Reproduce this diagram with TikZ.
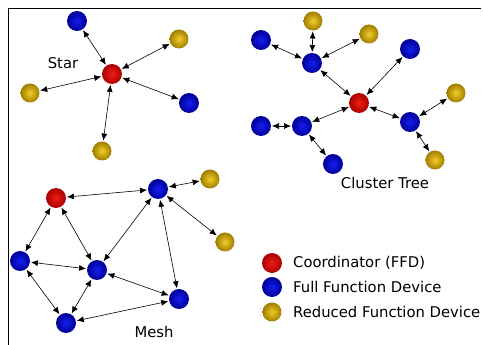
\documentclass[tikz,border=0pt]{standalone}
\usepackage{fontspec}
\setmainfont{DejaVu Sans}
\usetikzlibrary{arrows.meta}
\definecolor{redin}{RGB}{240,30,20}
\definecolor{redout}{RGB}{170,0,0}
\definecolor{bluein}{RGB}{20,30,240}
\definecolor{blueout}{RGB}{0,0,150}
\definecolor{goldin}{RGB}{240,205,40}
\definecolor{goldout}{RGB}{160,125,0}
\tikzset{
  dev/.style={circle, minimum size=20pt, inner sep=0pt, outer sep=1pt, shading=radial},
  coordn/.style={dev, inner color=redin, outer color=redout},
  ffd/.style={dev, inner color=bluein, outer color=blueout},
  rfd/.style={dev, minimum size=19pt, inner color=goldin, outer color=goldout},
  link/.style={{Latex[length=7pt,width=6pt]}-{Latex[length=7pt,width=6pt]}, line width=0.6pt},
  lbl/.style={font=\fontsize{14.8}{16}\selectfont, inner sep=0pt},
}
\begin{document}
\begin{tikzpicture}[x=1pt,y=-1pt]
\useasboundingbox (0,0) rectangle (483,345);
\coordinate (f1) at (8,345);
\coordinate (f2) at (8,9);
\coordinate (f3) at (481,9);
\draw[line width=1pt] (f1) -- (f2) -- (f3);
% Star
\node[coordn] (sc) at (112,74) {};
\node[ffd] (s1) at (77,21) {};
\node[rfd] (s2) at (179,39) {};
\node[rfd] (s3) at (30,93) {};
\node[ffd] (s4) at (189,103) {};
\node[rfd] (s5) at (102,151) {};
\node[lbl] (slab) at (63,63) {Star};
\foreach \n in {s1,s2,s3,s4,s5} \draw[link] (sc) -- (\n);
% Cluster tree
\node[coordn] (cc) at (359,103) {};
\node[ffd] (ca) at (312,63) {};
\node[rfd] (ca1) at (313,21) {};
\node[ffd] (ca2) at (261,40) {};
\node[rfd] (ca3) at (369,34) {};
\node[ffd] (cb) at (410,49) {};
\node[ffd] (cr) at (410,122) {};
\node[rfd] (cr1) at (456,93) {};
\node[rfd] (cr2) at (435,160) {};
\node[ffd] (cl) at (302,126) {};
\node[ffd] (cl1) at (261,126) {};
\node[ffd] (cl2) at (333,164) {};
\node[lbl] (clab) at (385,183) {Cluster Tree};
\draw[link] (cc) -- (ca);
\draw[link] (ca) -- (ca1);
\draw[link] (ca) -- (ca2);
\draw[link] (ca) -- (ca3);
\draw[link] (cc) -- (cb);
\draw[link] (cc) -- (cr);
\draw[link] (cr) -- (cr1);
\draw[link] (cr) -- (cr2);
\draw[link] (cc) -- (cl);
\draw[link] (cl) -- (cl1);
\draw[link] (cl) -- (cl2);
% Mesh
\node[coordn] (mr) at (56,198) {};
\node[ffd] (mt) at (158,189) {};
\node[rfd] (mg1) at (210,179) {};
\node[rfd] (mg2) at (225,242) {};
\node[ffd] (ml) at (20,261) {};
\node[ffd] (mc) at (97,270) {};
\node[ffd] (mrb) at (179,299) {};
\node[ffd] (mb) at (66,323) {};
\node[lbl] (mlab) at (154,332) {Mesh};
\draw[link] (mr) -- (mt);
\draw[link] (mt) -- (mg1);
\draw[link] (mt) -- (mg2);
\draw[link] (mr) -- (ml);
\draw[link] (mr) -- (mc);
\draw[link] (mt) -- (mc);
\draw[link] (mt) -- (mrb);
\draw[link] (ml) -- (mc);
\draw[link] (ml) -- (mb);
\draw[link] (mc) -- (mb);
\draw[link] (mc) -- (mrb);
\draw[link] (mb) -- (mrb);
% Legend
\node[coordn] (lg1) at (272,263) {};
\node[ffd] (lg2) at (272,287) {};
\node[rfd] (lg3) at (272,312) {};
\node[lbl, anchor=west] (lt1) at (293,263) {Coordinator (FFD)};
\node[lbl, anchor=west] (lt2) at (293,287) {Full Function Device};
\node[lbl, anchor=west] (lt3) at (293,312) {Reduced Function Device};
\end{tikzpicture}
\end{document}
